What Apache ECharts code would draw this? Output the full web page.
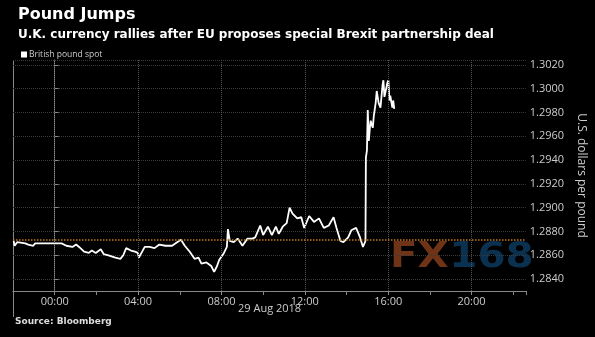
<!DOCTYPE html>
<html><head><meta charset="utf-8">
<script src="https://cdn.jsdelivr.net/npm/echarts@6/dist/echarts.min.js"></script>
<style>html,body{margin:0;padding:0;background:#000}#c{width:595px;height:337px}</style>
</head><body><div id="c"></div>
<script>
// hours relative to 00:00 on 29 Aug 2018
const hours = [-1.97,-1.92,-1.80,-1.41,-1.27,-1.03,-0.94,-0.56,-0.09,0.33,0.56,0.85,1.03,1.17,1.41,1.64,1.78,1.97,2.21,2.35,2.58,2.91,3.15,3.29,3.43,3.66,3.85,3.99,4.04,4.32,4.55,4.79,5.02,5.31,5.63,5.96,6.06,6.24,6.48,6.71,6.90,7.04,7.28,7.51,7.65,7.79,7.89,8.12,8.26,8.31,8.40,8.59,8.78,9.01,9.25,9.48,9.62,9.86,10.0,10.23,10.42,10.61,10.75,10.94,11.13,11.27,11.41,11.64,11.83,11.97,12.21,12.44,12.68,12.91,13.15,13.38,13.52,13.71,13.85,14.08,14.23,14.46,14.65,14.79,14.91,14.93,14.98,15.02,15.07,15.12,15.16,15.26,15.31,15.40,15.45,15.54,15.63,15.73,15.77,15.82,15.87,15.96,16.01,16.06,16.10,16.20,16.24,16.29];
const prices = [1.2872,1.2868,1.2871,1.2870,1.2869,1.2868,1.2870,1.2870,1.2870,1.2870,1.2868,1.2867,1.2869,1.2867,1.2863,1.2862,1.2864,1.2862,1.2865,1.2861,1.2860,1.2858,1.2857,1.2860,1.2866,1.2864,1.2863,1.2862,1.2858,1.2867,1.2867,1.2866,1.2869,1.2868,1.2868,1.2872,1.2873,1.2868,1.2863,1.2857,1.2858,1.2853,1.2854,1.2851,1.2846,1.2851,1.2856,1.2862,1.2867,1.2882,1.2872,1.2871,1.2874,1.2868,1.2874,1.2874,1.2875,1.2885,1.2877,1.2884,1.2877,1.2884,1.2878,1.2884,1.2887,1.2900,1.2895,1.2891,1.2892,1.2883,1.2893,1.2888,1.2891,1.2883,1.2885,1.2892,1.2883,1.2872,1.2871,1.2875,1.2881,1.2883,1.2875,1.2867,1.2872,1.2942,1.2948,1.2982,1.2956,1.2967,1.2973,1.2967,1.2977,1.2988,1.2998,1.2988,1.2984,1.3003,1.3007,1.2993,1.2997,1.3005,1.3007,1.2990,1.2994,1.2984,1.2990,1.2983];
const prevClose = 1.28733;
const labelHours = [0,4,8,12,16,20];
const xMin = -2, xMax = 22.6;
const yMin = 1.2830, yMax = 1.3024;

const chart = echarts.init(document.getElementById('c'));
const data = hours.map((h,i)=>[h,prices[i]]);
const sans = 'Open Sans';
const pad = v => String(v).padStart(2,'0') + ':00';

chart.setOption({
  backgroundColor:'#000',
  animation:false,
  title:[
    {text:'Pound Jumps',left:13,top:2,textStyle:{color:'#fff',fontSize:16,fontWeight:'bold',fontFamily:'DejaVu Sans'}},
    {text:'U.K. currency rallies after EU proposes special Brexit partnership deal',left:13,top:24,textStyle:{color:'#fff',fontSize:12,fontWeight:'bold',fontFamily:'DejaVu Sans'}}
  ],
  legend:{left:16,top:45,icon:'rect',itemWidth:6,itemHeight:6,itemGap:4,
    textStyle:{color:'#ccc',fontSize:8.5,fontFamily:sans,padding:[0,0,0,-3]},data:['British pound spot']},
  grid:{left:13,right:59,top:60,bottom:46},
  xAxis:[
    {type:'value',min:xMin,max:xMax,
      axisLine:{show:true,onZero:false,lineStyle:{color:'#888'}},
      axisTick:{show:true,length:4,customValues:labelHours,lineStyle:{color:'#888'}},
      axisLabel:{color:'#ccc',fontSize:11,fontFamily:sans,margin:5,customValues:labelHours,formatter:v=>pad(v)},
      splitLine:{show:false}},
    {type:'value',min:xMin,max:xMax,interval:2,position:'bottom',offset:0,
      axisLine:{show:false},
      axisTick:{show:true,length:4,lineStyle:{color:'#888'}},
      axisLabel:{show:false},
      splitLine:{show:false}}
  ],
  yAxis:{type:'value',position:'right',min:yMin,max:yMax,splitNumber:10,
    name:'U.S. dollars per pound',nameLocation:'middle',nameRotate:-90,nameGap:42,
    nameTextStyle:{color:'#ccc',fontSize:12,fontFamily:sans},
    axisLine:{show:true,lineStyle:{color:'#888'}},
    axisTick:{show:true,length:4,lineStyle:{color:'#888'}},
    axisLabel:{color:'#ccc',fontSize:11,fontFamily:sans,margin:4,showMinLabel:false,showMaxLabel:false,
      formatter:v=>v.toFixed(4)},
    splitLine:{show:true,lineStyle:{color:'#3a3a3a',type:'dotted'}}},
  graphic:[
    {type:'line',shape:{x1:13.5,y1:60,x2:13.5,y2:317},style:{stroke:'#888',lineWidth:1},silent:true},
    {type:'text',left:238,top:303,style:{text:'29 Aug 2018',fill:'#ccc',font:'11px "Open Sans"'}},
    {type:'text',left:15,top:317,style:{text:'Source: Bloomberg',fill:'#ddd',font:'bold 9px "DejaVu Sans"'}},
    {type:'group',left:390,top:240,scaleX:1.12,children:[
      {type:'text',style:{text:'FX',fill:'rgba(130,60,28,0.85)',font:'bold 36px "DejaVu Sans"'}},
      {type:'text',x:53,style:{text:'168',fill:'rgba(12,52,84,0.95)',font:'bold 36px "DejaVu Sans"'}}
    ]}
  ],
  series:[
    {type:'line',data:[],xAxisIndex:0,silent:true,z:1,
      markLine:{silent:true,symbol:'none',precision:6,label:{show:false},animation:false,
        lineStyle:{color:'#555',type:'dotted',width:1},
        data:labelHours.map(h=>({xAxis:h}))}},
    {name:'British pound spot',type:'line',data:data,symbol:'none',xAxisIndex:0,z:3,
      lineStyle:{color:'#fff',width:1.8},itemStyle:{color:'#fff'},
      markLine:{silent:true,symbol:'none',precision:6,label:{show:false},
        lineStyle:{color:'#c87a1e',type:'dotted',width:1.5},
        data:[{yAxis:prevClose}]}}
  ]
});
</script></body></html>
